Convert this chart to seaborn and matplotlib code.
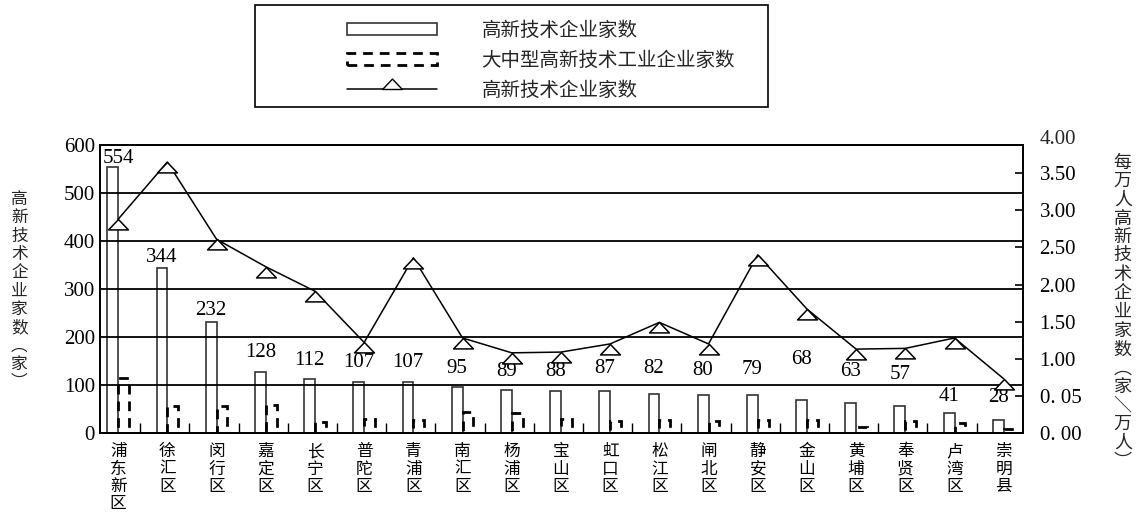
import numpy as np
import pandas as pd
import matplotlib
matplotlib.use("Agg")
import matplotlib.pyplot as plt
import seaborn as sns
from matplotlib.path import Path
from matplotlib.markers import MarkerStyle
from matplotlib.patches import Patch, Rectangle
from matplotlib.lines import Line2D

# ---- data -------------------------------------------------------------
districts = ["浦东新区", "徐汇区", "闵行区", "嘉定区", "长宁区", "普陀区", "青浦区",
             "南汇区", "杨浦区", "宝山区", "虹口区", "松江区", "闸北区", "静安区",
             "金山区", "黄埔区", "奉贤区", "卢湾区", "崇明县"]
hightech_firms = [554, 344, 232, 128, 112, 107, 107, 95, 89, 88, 87, 82, 80, 79,
                  68, 63, 57, 41, 28]
large_medium_firms = [115, 56, 56, 58, 23, 29, 28, 44, 41, 29, 26, 27, 26, 28,
                      27, 13, 25, 20, 8]
firms_per_10k = [2.88, 3.65, 2.61, 2.24, 1.91, 1.22, 2.36, 1.28, 1.08, 1.09,
                 1.20, 1.49, 1.20, 2.40, 1.67, 1.13, 1.14, 1.28, 0.73]

left_ticks = [0, 100, 200, 300, 400, 500, 600]
right_ticks = [0.0, 0.5, 1.0, 1.5, 2.0, 2.5, 3.0, 3.5]
right_tick_labels = ["0. 00", "0. 05", "1.00", "1.50", "2.00", "2.50", "3.00", "3.50"]
right_top_label = "4.00"

series_bar = "高新技术企业家数"
series_dash = "大中型高新技术工业企业家数"
series_line = "高新技术企业家数"
left_title = "高新技术企业家数︵家︶"
right_title = "每万人高新技术企业家数︵家＼万人︶"

# label placement: centre height (left-axis units) and horizontal shift
label_heights = [571, 365, 256, 167, 152, 146, 146, 135, 129, 129, 135, 135,
                 131, 133, 154, 129, 121, 75, 73]
label_shift = [0.0] + [-0.11] * 18

# ---- style ------------------------------------------------------------
sns.set_theme(style="white")
plt.rcParams["font.family"] = ["Liberation Serif", "Noto Sans CJK SC"]
plt.rcParams["axes.unicode_minus"] = False

fig = plt.figure(figsize=(11.41, 5.29), dpi=100)
ax = fig.add_axes([0.0876, 0.1815, 0.8089, 0.5444])

n = len(districts)
df = pd.DataFrame({
    "区县": districts * 2,
    "系列": [series_bar] * n + [series_dash] * n,
    "家数": hightech_firms + large_medium_firms,
})

sns.barplot(data=df, x="区县", y="家数", hue="系列",
            hue_order=[series_bar, series_dash], order=districts,
            width=0.44, dodge=True, legend=False, ax=ax,
            palette=["white", "white"], saturation=1, edgecolor="black",
            linewidth=1.2, zorder=1)

for bar in ax.containers[0]:
    bar.set_facecolor("none")
    bar.set_edgecolor("#333333")
    bar.set_linewidth(1.2)
for bar in ax.containers[1]:
    bar.set_facecolor("none")
    bar.set_edgecolor("black")
    bar.set_linewidth(2.0)
    bar.set_linestyle((0, (3.5, 2.5)))

# value labels above the solid bars
for i, (v, h, dx) in enumerate(zip(hightech_firms, label_heights, label_shift)):
    ax.text(i + dx, h, str(v), ha="center", va="center", fontsize=15,
            color="black", zorder=5)

ax.set_xlim(-0.37, n - 1 + 0.39)
ax.set_ylim(0, 600)
ax.set_yticks(left_ticks)
ax.set_yticklabels([str(t) for t in left_ticks], fontsize=15)
ax.tick_params(axis="y", length=0, pad=3.5, colors="black")
ax.grid(axis="y", color="black", linewidth=1.3, zorder=2)
ax.set_axisbelow(False)
ax.set_xlabel("")
ax.set_ylabel("")

ax.set_xticks(range(n))
ax.set_xticklabels(["\n".join(d) for d in districts], fontsize=12,
                   linespacing=1.12, va="top")
ax.tick_params(axis="x", which="major", length=0, pad=8, colors="black")
ax.set_xticks([i + 0.45 for i in range(n - 1)], minor=True)
ax.tick_params(axis="x", which="minor", direction="in", length=7, width=1.0,
               bottom=True, color="black")

for sp in ax.spines.values():
    sp.set_color("black")
    sp.set_linewidth(1.3)

# ---- per 10k line on the secondary axis -------------------------------
# open triangle whose apex sits on the data point
tri = MarkerStyle(Path([(0, 0), (-1, -1.05), (1, -1.05), (0, 0)],
                       [Path.MOVETO, Path.LINETO, Path.LINETO, Path.CLOSEPOLY]))
ax2 = ax.twinx()
sns.lineplot(x=np.arange(n), y=firms_per_10k, ax=ax2, color="black",
             linewidth=1.1, marker=tri, markersize=15,
             markerfacecolor="white", markeredgecolor="black",
             markeredgewidth=1.1, zorder=6)
ax2.set_ylim(0, 3.88)
ax2.set_yticks(right_ticks)
ax2.set_yticklabels(right_tick_labels, fontsize=15)
ax2.tick_params(axis="y", direction="in", length=6, width=1.2, pad=12,
                colors="black")
ax2.annotate(right_top_label, xy=(1, 1), xycoords="axes fraction",
             xytext=(12, 4), textcoords="offset points", ha="left",
             va="center", fontsize=15)
ax2.set_ylabel("")
ax2.grid(False)
for sp in ax2.spines.values():
    sp.set_color("black")
    sp.set_linewidth(1.3)

# ---- axis titles (vertical, stacked characters) -----------------------
fig.text(0.017, 0.45, "\n".join(left_title), ha="center", va="center",
         fontsize=12, linespacing=1.1, family=["Noto Sans CJK SC"])
fig.text(0.984, 0.41, "\n".join(right_title), ha="center", va="center",
         fontsize=13, linespacing=1.05, family=["Noto Sans CJK SC"])

# ---- legend ---------------------------------------------------------
# legend triangle rests on the line with its base
tri_leg = MarkerStyle(Path([(0, 1.05), (-1, 0), (1, 0), (0, 1.05)],
                           [Path.MOVETO, Path.LINETO, Path.LINETO, Path.CLOSEPOLY]))
handles = [
    Patch(facecolor="white", edgecolor="#333333", linewidth=1.2),
    Patch(facecolor="white", edgecolor="black", linewidth=2.0,
          linestyle=(0, (3.5, 2.5))),
    Line2D([], [], color="black", linewidth=1.1, marker=tri_leg, markersize=15,
           markerfacecolor="white", markeredgecolor="black"),
]
leg = fig.legend(handles, [series_bar, series_dash, series_line],
                 loc="upper left", bbox_to_anchor=(0.289, 0.995),
                 frameon=False, handlelength=4.6,
                 handleheight=0.6, handletextpad=2.3, labelspacing=0.45,
                 prop={"family": ["Noto Sans CJK SC"], "size": 14})
fig.add_artist(Rectangle((0.2235, 0.798), 0.4495, 0.193,
                         transform=fig.transFigure, fill=False,
                         edgecolor="black", linewidth=1.2))

fig.savefig("out.png", dpi=100, facecolor="white")
